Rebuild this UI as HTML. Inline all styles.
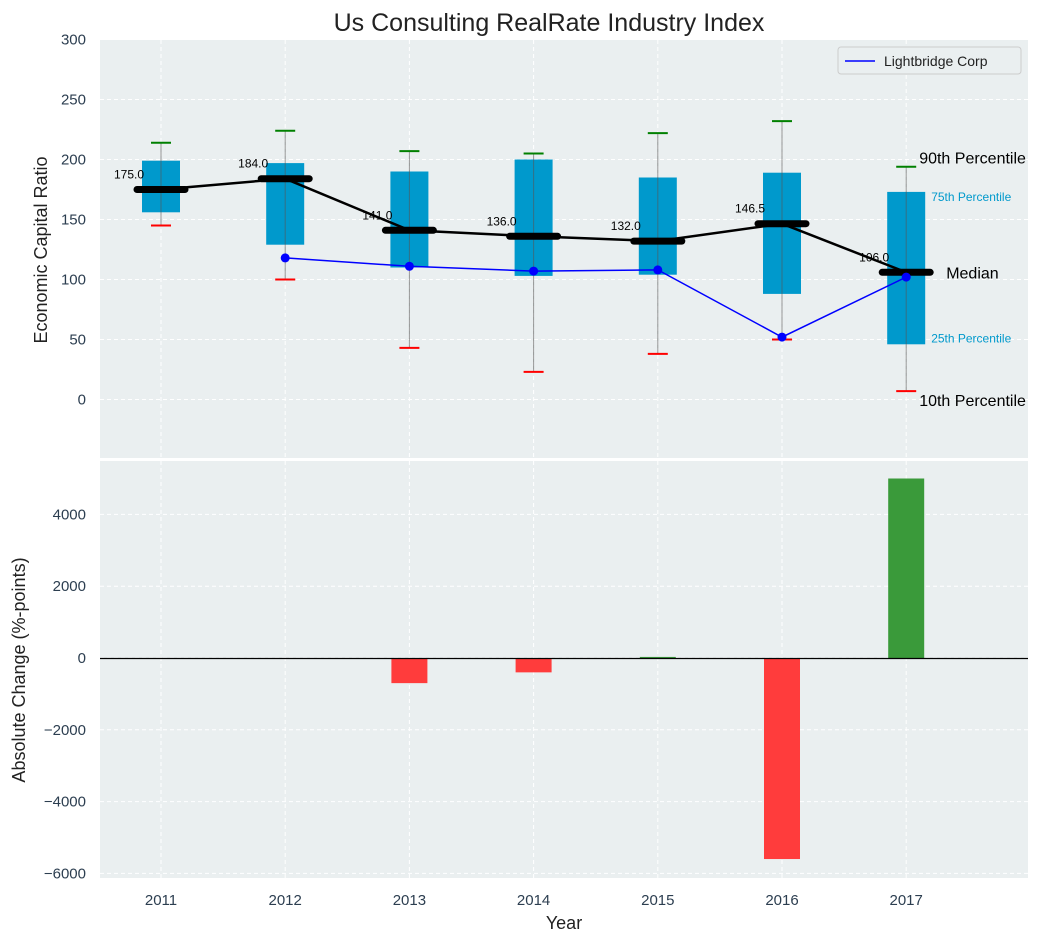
<!DOCTYPE html>
<html><head><meta charset="utf-8">
<style>body{margin:0;background:#fff;}svg{display:block;font-family:"Liberation Sans","DejaVu Sans",sans-serif;}</style>
</head><body>
<svg id="c" width="1054" height="942"></svg>
<script>
const years=[2011,2012,2013,2014,2015,2016,2017];
const p10=[145,100,43,23,38,50,7];
const p25=[156,129,110,103,104,88,46];
const med=[175,184,141,136,132,146.5,106];
const p75=[199,197,190,200,185,189,173];
const p90=[214,224,207,205,222,232,194];
const lbYears=[2012,2013,2014,2015,2016,2017];
const lbVals=[118,111,107,108,52,102];
const chgYears=[2013,2014,2015,2016,2017];
const chgVals=[-700,-400,30,-5600,5000];
const topTicks=[0,50,100,150,200,250,300];
const botTicks=[-6000,-4000,-2000,0,2000,4000];

const NS="http://www.w3.org/2000/svg",svg=document.getElementById('c');
function el(t,a,txt){const e=document.createElementNS(NS,t);for(const k in a)e.setAttribute(k,a[k]);if(txt!==undefined)e.textContent=txt;svg.appendChild(e);return e;}
const X=y=>161+(y-2011)*124.2;
const YT=v=>399.5-1.2*v;
const YB=v=>658-0.0359*v;
const L=100,R=1028;
let e;
e=el('rect',{x:L,y:40,width:R-L,height:418,fill:'#eaeff0'});

e=el('rect',{x:L,y:461,width:R-L,height:417,fill:'#eaeff0'});

years.forEach(y=>{el('line',{x1:X(y),x2:X(y),y1:40,y2:458,stroke:'#fff','stroke-dasharray':'4,3'});el('line',{x1:X(y),x2:X(y),y1:461,y2:878,stroke:'#fff','stroke-dasharray':'4,3'});});
topTicks.forEach(v=>{el('line',{x1:L,x2:R,y1:YT(v),y2:YT(v),stroke:'#fff','stroke-dasharray':'4,3'});
 e=el('text',{x:86,y:YT(v)+5,'text-anchor':'end','font-size':15,fill:'#2c3e50'},v);});
botTicks.forEach(v=>{el('line',{x1:L,x2:R,y1:YB(v),y2:YB(v),stroke:'#fff','stroke-dasharray':'4,3'});
 e=el('text',{x:86,y:YB(v)+5,'text-anchor':'end','font-size':15,fill:'#2c3e50'},(v<0?'\u2212':'')+Math.abs(v));});
years.forEach(y=>{e=el('text',{x:X(y),y:905,'text-anchor':'middle','font-size':15,fill:'#2c3e50'},y);});
years.forEach((y,i)=>{const x=X(y);
 e=el('rect',{x:x-19,y:YT(p75[i]),width:38,height:YT(p25[i])-YT(p75[i]),fill:'#0099cc'});
 el('line',{x1:x,x2:x,y1:YT(p90[i]),y2:YT(p10[i]),stroke:'#555','stroke-opacity':0.6,'stroke-width':1});
 el('line',{x1:x-10,x2:x+10,y1:YT(p90[i]),y2:YT(p90[i]),stroke:'green','stroke-width':2});
 el('line',{x1:x-10,x2:x+10,y1:YT(p10[i]),y2:YT(p10[i]),stroke:'red','stroke-width':2});
});
e=el('polyline',{points:years.map((y,i)=>X(y)+','+YT(med[i])).join(' '),fill:'none',stroke:'#000','stroke-width':2.5});

years.forEach((y,i)=>{const x=X(y);
 el('line',{x1:x-24,x2:x+24,y1:YT(med[i]),y2:YT(med[i]),stroke:'#000','stroke-width':7,'stroke-linecap':'round'});
 e=el('text',{x:x-17,y:YT(med[i])-11,'text-anchor':'end','font-size':12,fill:'#000'},med[i].toFixed(1));
});
e=el('polyline',{points:lbYears.map((y,i)=>X(y)+','+YT(lbVals[i])).join(' '),fill:'none',stroke:'blue','stroke-width':1.5});

lbYears.forEach((y,i)=>{e=el('circle',{cx:X(y),cy:YT(lbVals[i]),r:4.5,fill:'blue'});});
const i7=6,x7=X(2017);
[['90th Percentile',x7+13,YT(p90[i7])-3,16,'#000'],['75th Percentile',x7+25,YT(p75[i7])+9,12,'#0099cc'],['Median',x7+40,YT(med[i7])+6,16,'#000'],['25th Percentile',x7+25,YT(p25[i7])-2,12,'#0099cc'],['10th Percentile',x7+13,YT(p10[i7])+15,16,'#000']].forEach(a=>{
 e=el('text',{x:a[1],y:a[2],'font-size':a[3],fill:a[4]},a[0]);});
e=el('rect',{x:838,y:47,width:183,height:27,rx:3,fill:'#eaeff0',stroke:'#ccc'});
el('line',{x1:845,x2:875,y1:61,y2:61,stroke:'blue','stroke-width':1.5});
e=el('text',{x:884,y:66,'font-size':14,fill:'#222'},'Lightbridge Corp');
chgYears.forEach((y,i)=>{const v=chgVals[i];const y0=YB(Math.max(v,0)),y1=YB(Math.min(v,0));
 e=el('rect',{x:X(y)-18,y:y0,width:36,height:Math.max(y1-y0,1),fill:v>=0?'#3a9a3a':'#ff3c3c'});});
el('line',{x1:L,x2:R,y1:YB(0)+0.5,y2:YB(0)+0.5,stroke:'#000','stroke-width':1.2});
e=el('text',{x:549,y:31,'text-anchor':'middle','font-size':25,fill:'#222'},'Us Consulting RealRate Industry Index');
e=el('text',{x:47,y:250,'text-anchor':'middle','font-size':18,fill:'#222',transform:'rotate(-90 47 250)'},'Economic Capital Ratio');
e=el('text',{x:25,y:670,'text-anchor':'middle','font-size':18,fill:'#222',transform:'rotate(-90 25 670)'},'Absolute Change (%-points)');
e=el('text',{x:564,y:929,'text-anchor':'middle','font-size':18,fill:'#222'},'Year');
</script>
</body></html>
